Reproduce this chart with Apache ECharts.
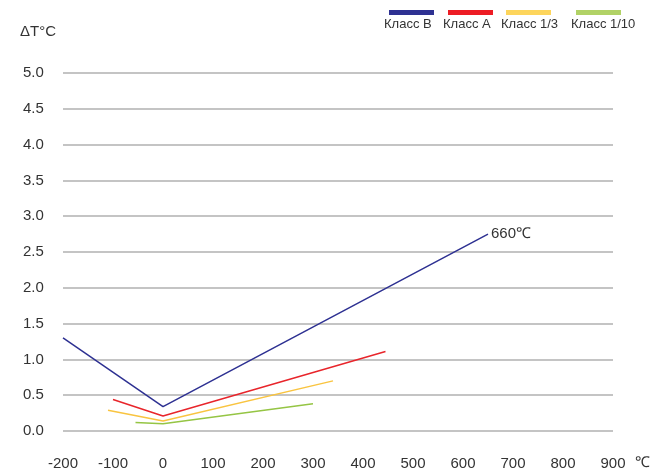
<!DOCTYPE html>
<html><head><meta charset="utf-8">
<script src="https://cdn.jsdelivr.net/npm/echarts@6/dist/echarts.min.js"></script>
<style>html,body{margin:0;padding:0;background:#fff}#c{width:653px;height:473px}</style>
</head><body><div id="c"></div>
<script>
const seriesNames = ['Класс B', 'Класс A', 'Класс 1/3', 'Класс 1/10'];
const colors = ['#2e3192', '#e8252b', '#f9c440', '#95c544'];
const legendColors = ['#2e3192', '#ed1c24', '#fdd55c', '#b1d266'];
const classB = [[-200, 1.30], [0, 0.34], [650, 2.75]];
const classA = [[-100, 0.44], [0, 0.21], [445, 1.11]];
const class13 = [[-110, 0.29], [0, 0.14], [340, 0.70]];
const class110 = [[-55, 0.12], [0, 0.10], [300, 0.38]];
const endLabel = '660℃';
const xTicks = [-200, 900, 100];
const yTicks = [0, 5, 0.5];

const chart = echarts.init(document.getElementById('c'), null, {renderer: 'canvas'});
const data = [classB, classA, class13, class110];
const FONT = 'Liberation Sans, Arial, sans-serif';

const legendX = [389, 448, 506, 576];
const graphics = [];
seriesNames.forEach((n, i) => {
  graphics.push({type: 'rect', left: legendX[i], top: 10, shape: {width: 45, height: 5}, style: {fill: legendColors[i]}});
  graphics.push({type: 'text', left: legendX[i] - 5, top: 18, style: {text: n, fill: '#333', font: '13px ' + FONT}});
});
graphics.push({type: 'text', left: 20, top: 24, style: {text: 'ΔT°C', fill: '#333', font: '15px ' + FONT}});
graphics.push({type: 'text', left: 635, top: 455, style: {text: '℃', fill: '#333', font: '15px ' + FONT}});

chart.setOption({
  animation: false,
  grid: {left: 63, right: 40, top: 73, bottom: 42, containLabel: false},
  xAxis: {
    type: 'value', min: xTicks[0], max: xTicks[1], interval: xTicks[2],
    axisLine: {show: false}, axisTick: {show: false}, splitLine: {show: false},
    axisLabel: {color: '#333', fontSize: 15, fontFamily: FONT, margin: 25, showMaxLabel: true, showMinLabel: true}
  },
  yAxis: {
    type: 'value', min: yTicks[0], max: yTicks[1], interval: yTicks[2],
    axisLine: {show: false}, axisTick: {show: false},
    splitLine: {lineStyle: {color: '#b0b0b0', width: 1.5}},
    axisLabel: {color: '#333', fontSize: 15, fontFamily: FONT, margin: 40, align: 'left',
      formatter: v => v.toFixed(1)}
  },
  graphic: graphics,
  series: data.map((d, i) => ({
    name: seriesNames[i], type: 'line', data: d, symbol: 'none', silent: true,
    lineStyle: {color: colors[i], width: 1.5},
    endLabel: i === 0 ? {show: true, formatter: endLabel, color: '#333', fontSize: 15, fontFamily: FONT, distance: 3} : undefined
  }))
});
</script></body></html>
